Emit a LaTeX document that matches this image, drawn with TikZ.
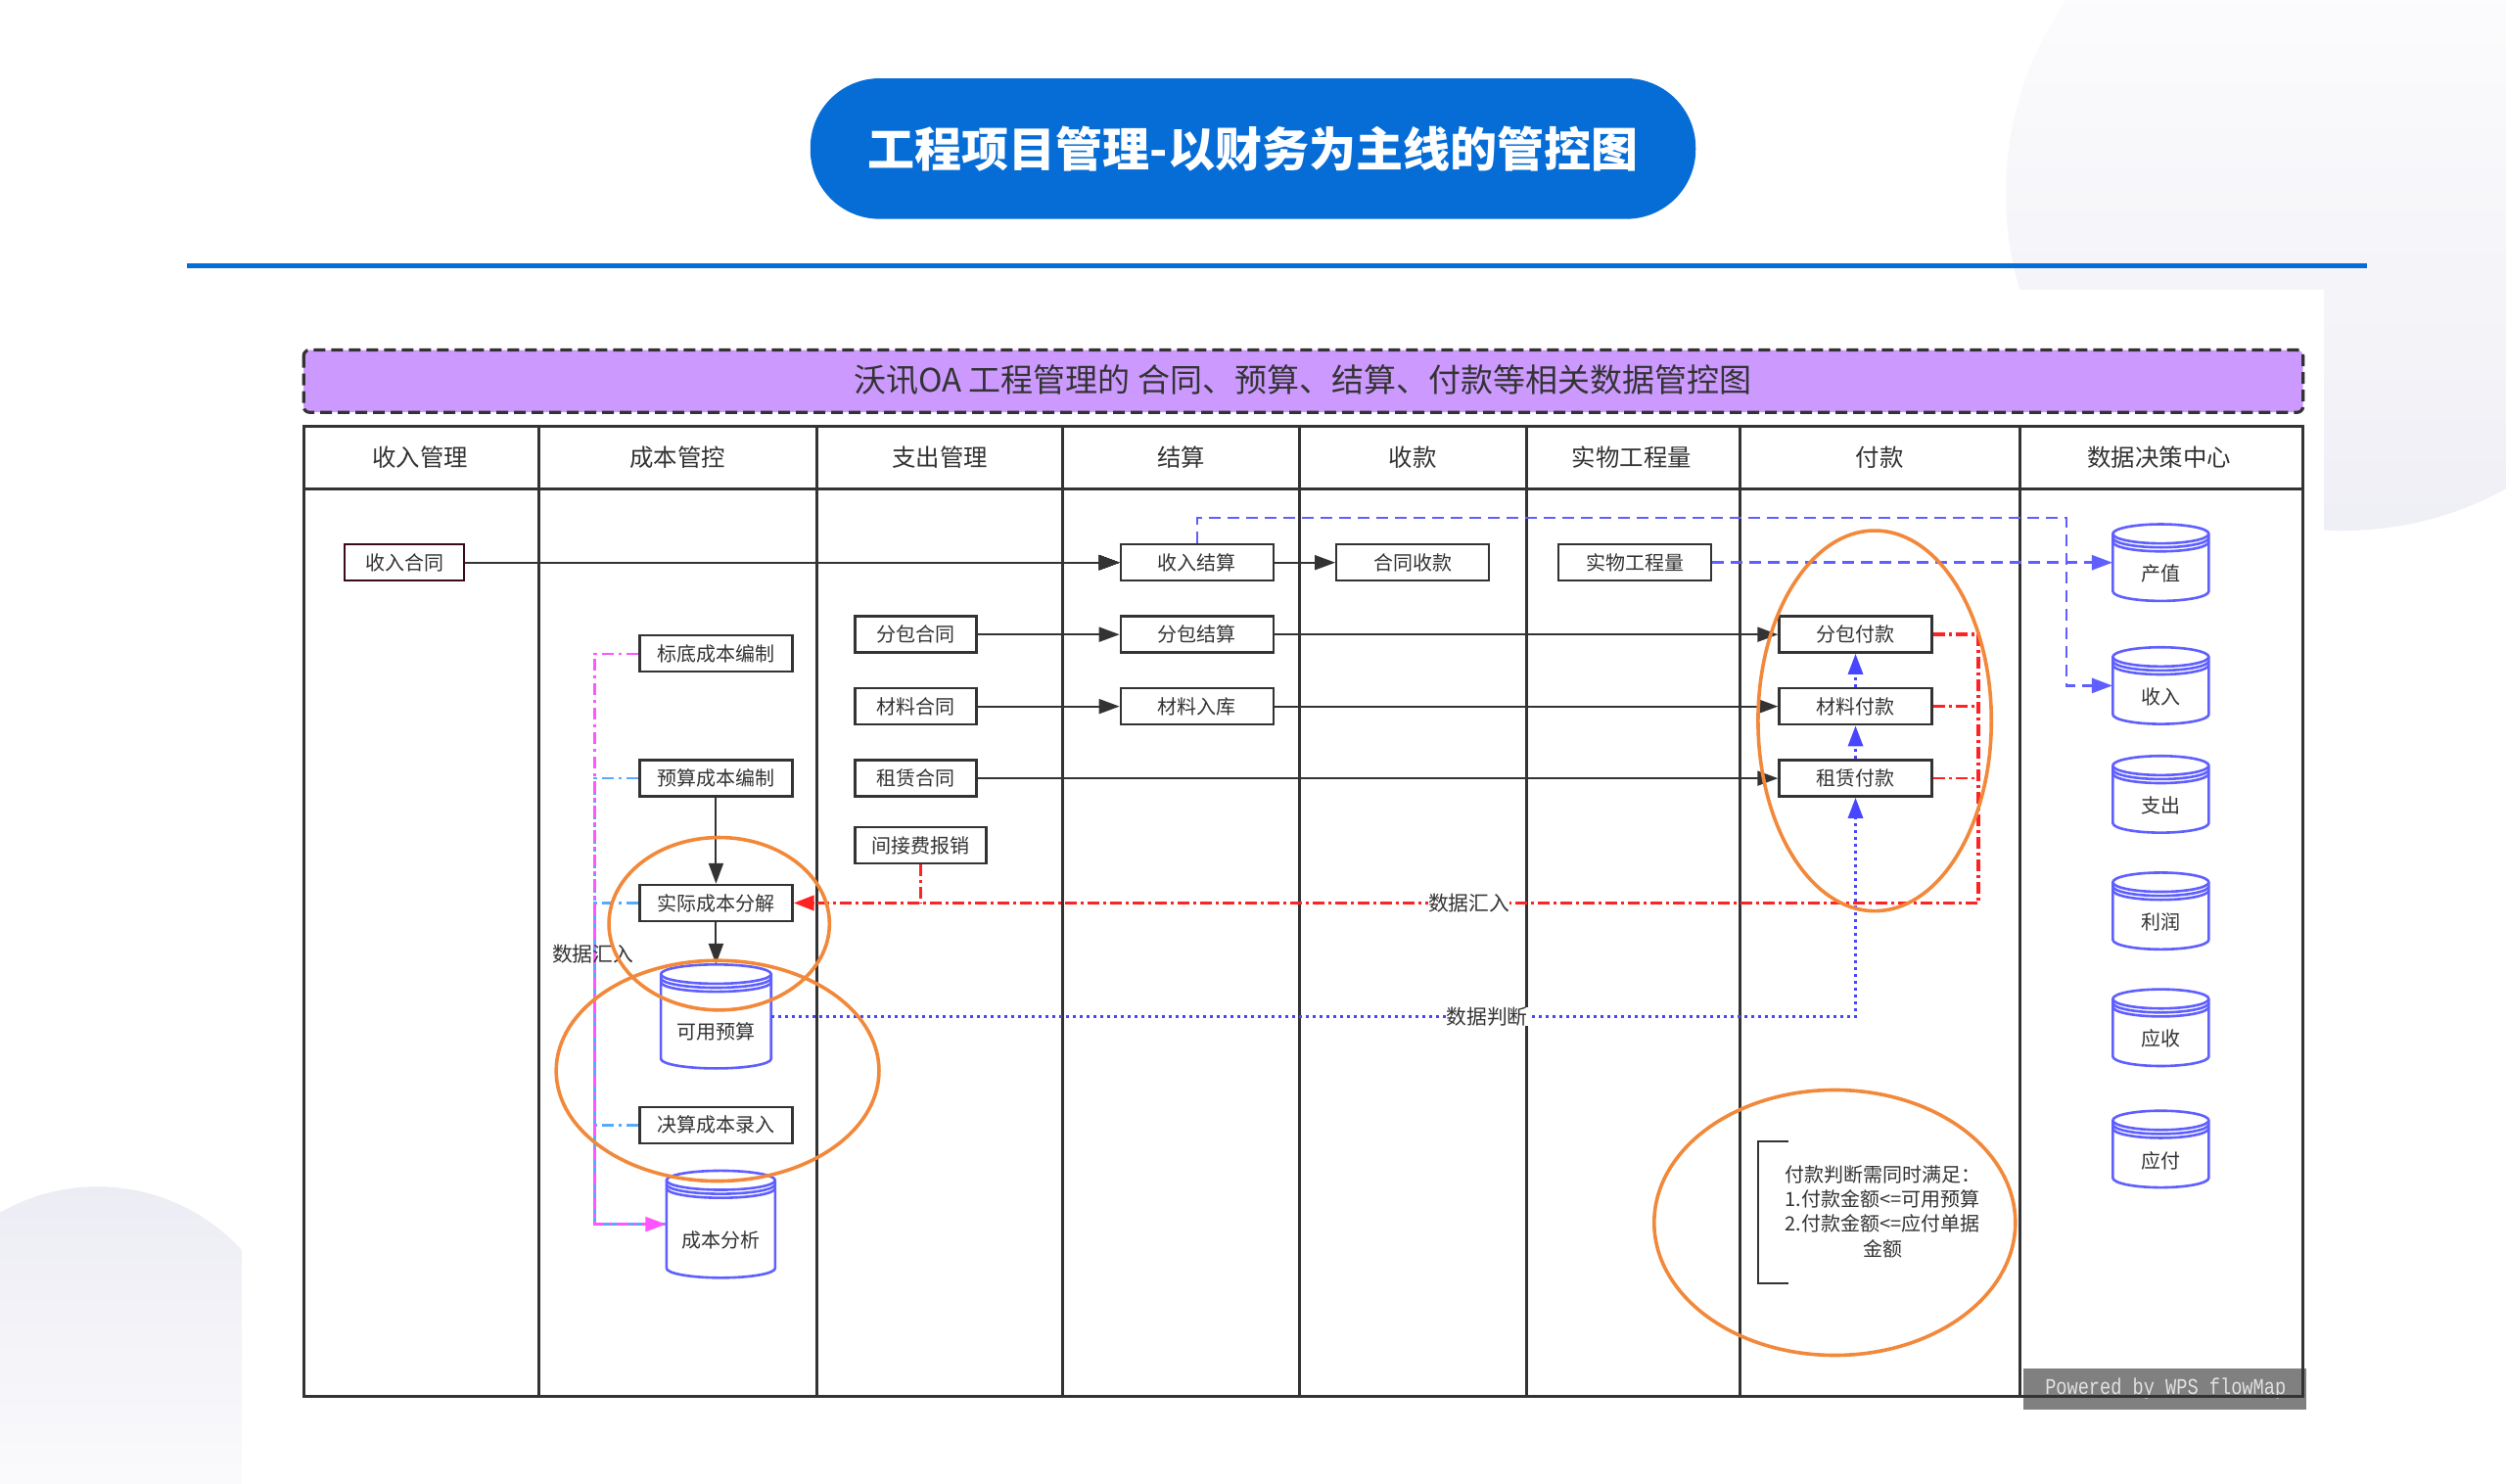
\documentclass[tikz,border=0pt]{standalone}
\usepackage{fontspec}
\setmainfont{Noto Sans CJK SC}
\newfontfamily\wpsmono{Liberation Mono}
\usetikzlibrary{arrows.meta}
\definecolor{titleblue}{RGB}{6,109,214}
\definecolor{bandpurple}{RGB}{204,153,255}
\definecolor{linegray}{RGB}{51,51,51}
\definecolor{flowblue}{RGB}{95,95,255}
\definecolor{dotblue}{RGB}{70,70,255}
\definecolor{flowred}{RGB}{255,34,34}
\definecolor{flowpink}{RGB}{255,85,255}
\definecolor{flowcyan}{RGB}{85,170,255}
\definecolor{ringorange}{RGB}{242,136,58}
\definecolor{bgshade}{RGB}{236,236,244}
\definecolor{incborder}{RGB}{60,10,30}
\definecolor{wpsgray}{RGB}{128,128,128}
\definecolor{wpstext}{RGB}{225,225,225}
\newcommand\dbcyl[6]{%
	\draw [dbline] ({#2-#4},{#3-#5+6}) -- ({#2-#4},{#3+#5-6}) arc [start angle=180, end angle=360, x radius=#4*0.8163pt, y radius=4.9pt] -- ({#2+#4},{#3-#5+6}) arc [start angle=0, end angle=180, x radius=#4*0.8163pt, y radius=4.9pt] -- cycle;
	\foreach \s in {0,2.5,5}
		\draw [dbline, fill=none] ({#2-#4},{#3-#5+6+\s}) arc [start angle=180, end angle=360, x radius=#4*0.8163pt, y radius=4.9pt];
	\node [dbtext, minimum width=#4*1.6326pt, minimum height=#5*1.6326pt] (#1) at (#2,#3) {\raisebox{-\dimexpr #5pt*24/100+3.8pt\relax}[0pt][0pt]{#6}};
}
\begin{document}
\begin{tikzpicture}[x=0.8163pt, y=-0.8163pt,
	box/.style={draw=linegray, line width=1.2pt, fill=white, text=linegray, minimum height=18.5pt, font=\fontsize{10}{12}\selectfont},
	wide/.style={box, minimum width=78pt},
	short/.style={box, minimum width=62pt},
	head/.style={text=linegray, font=\fontsize{12.2}{14}\selectfont},
	dbtext/.style={text=linegray, font=\fontsize{10}{12}\selectfont},
	dbline/.style={draw=flowblue, line width=1.3pt, fill=white},
	lane/.style={draw=linegray, line width=1.5pt},
	tip/.style={-{Triangle[length=10.5pt,width=7.5pt]}},
	flow/.style={draw=linegray, line width=1pt, tip},
	reddash/.style={draw=flowred, line width=1.2pt, dash pattern=on 6pt off 2pt on 1.5pt off 2pt},
	bluedash/.style={draw=flowblue, line width=1.3pt, dash pattern=on 6pt off 3.5pt},
	bluedot/.style={draw=dotblue, line width=1.5pt, dash pattern=on 1.5pt off 2pt},
	pinkdash/.style={draw=flowpink, line width=1.2pt, dash pattern=on 6pt off 2.5pt on 1.5pt off 2.5pt},
	cyandash/.style={draw=flowcyan, line width=1.2pt, dash pattern=on 6pt off 2.5pt on 1.5pt off 2.5pt},
	ring/.style={draw=ringorange, line width=1.8pt},
	tag/.style={text=linegray, font=\fontsize{10.4}{12}\selectfont}]
		\tikzstyle{every node}+=[inner sep=0pt]
		\useasboundingbox (0,0) rectangle (1568,928);
		\fill [white] (0,0) rectangle (1568,928);
		\begin{scope}
			\clip (0,600) rectangle (151,928);
			\shade [top color=bgshade, bottom color=white] (61,865) circle [radius=122.5];
		\end{scope}
		\shade [top color=white, bottom color=bgshade!85] (1466,121) circle [radius=211];
		\fill [white] (151,181) rectangle (1454,900);
		\fill [titleblue, rounded corners=35.5pt] (507,49) rectangle (1061,137);
		\node [text=white, font=\bfseries\fontsize{24}{28}\selectfont] (title) at (784,93) {工程项目管理-以财务为主线的管控图};
		\draw [titleblue, line width=2.5pt] (117,166) -- (1481,166);
		\draw [draw=linegray, line width=1.6pt, dash pattern=on 6pt off 3pt, fill=bandpurple, rounded corners=3pt] (190,219) rectangle (1441,258);
		\node [text=linegray, font=\fontsize{16.5}{19}\selectfont] (band) at (815,238) {沃讯OA 工程管理的 合同、预算、结算、付款等相关数据管控图};
		\fill [wpsgray] (1266,856) rectangle (1443,882);
		\node [text=wpstext, font=\wpsmono\fontsize{11.5}{13}\selectfont] (wps) at (1355,869) {\scalebox{0.81}[1]{Powered by WPS flowMap}};
		\draw [lane] (190,267) rectangle (1441,874);
		\draw [lane] (190,306) -- (1441,306);
		\foreach \x in {337,511,665,813,955,1089,1264}
			\draw [lane] (\x,267) -- (\x,874);
		\foreach \x/\t [count=\i] in {263/收入管理,424/成本管控,588/支出管理,739/结算,884/收款,1021/实物工程量,1176/付款,1351/数据决策中心}
			\node [head] (lane\i) at (\x,286) {\t};
		\node [box, minimum width=61pt, draw=incborder] (inc) at (253,352) {收入合同};
		\node [wide] (incset) at (749,352) {收入结算};
		\node [wide] (recv) at (884,352) {合同收款};
		\node [wide] (qty) at (1023,352) {实物工程量};
		\node [short] (subc) at (573,397) {分包合同};
		\node [wide] (subset) at (749,397) {分包结算};
		\node [wide] (subpay) at (1161,397) {分包付款};
		\node [short] (matc) at (573,442) {材料合同};
		\node [wide] (matin) at (749,442) {材料入库};
		\node [wide] (matpay) at (1161,442) {材料付款};
		\node [short] (rentc) at (573,487) {租赁合同};
		\node [wide] (rentpay) at (1161,487) {租赁付款};
		\node [box, minimum width=67pt] (indir) at (576,529) {间接费报销};
		\node [wide] (target) at (448,409) {标底成本编制};
		\node [wide] (budget) at (448,487) {预算成本编制};
		\node [wide] (actual) at (448,565) {实际成本分解};
		\node [wide] (final) at (448,704) {决算成本录入};
		\dbcyl{avail}{448}{636}{34.5}{32.5}{可用预算}
		\dbcyl{analysis}{451}{766}{34}{33.5}{成本分析}
		\foreach \n/\y/\t in {output/352/产值,revenue/429/收入,expense/497/支出,profit/570/利润,recvable/643/应收,payable/719/应付}
			\dbcyl{\n}{1352}{\y}{30}{24}{\t}
		\draw [flow] (inc) -- (incset);
		\draw [flow] (incset) -- (recv);
		\draw [flow] (subc) -- (subset);
		\draw [flow] (subset) -- (subpay);
		\draw [flow] (matc) -- (matin);
		\draw [flow] (matin) -- (matpay);
		\draw [flow] (rentc) -- (rentpay);
		\draw [flow] (budget) -- (actual);
		\draw [flow] (actual) -- (avail);
		\coordinate (redbus) at (1238,565);
		\draw [reddash] (matpay.east) -- (matpay.east -| redbus);
		\draw [reddash] (rentpay.east) -- (rentpay.east -| redbus);
		\draw [reddash] (indir.south) -- (indir.south |- redbus);
		\draw [reddash, line width=1.8pt, tip] (subpay.east) -| (redbus) -- node [tag, fill=white, pos=0.43] (gather) {数据汇入} (actual.east);
		\coordinate (bluebend) at (1293,324);
		\draw [bluedash, tip] (incset.north) |- (bluebend) |- (revenue.west);
		\draw [bluedash, tip] (qty.east) -- (output.west);
		\draw [bluedot, tip] (avail.east) -| node [tag, fill=white, pos=0.33] (judge) {数据判断} (rentpay.south);
		\draw [bluedot, tip] (rentpay.north) -- (matpay.south);
		\draw [bluedot, tip] (matpay.north) -- (subpay.south);
		\coordinate (pinkbus) at (372,766);
		\foreach \n in {budget,actual,final}
			\draw [cyandash] (\n.west) -| (pinkbus) -- (analysis.west);
		\draw [pinkdash, tip] (target.west) -| (pinkbus) -- (analysis.west);
		\node [tag] (gather2) at (371,597) {数据汇入};
		\draw [ring] (1173,451) ellipse [x radius=73, y radius=119];
		\draw [ring] (450,578) ellipse [x radius=69, y radius=54];
		\draw [ring] (449,670) ellipse [x radius=101, y radius=69];
		\draw [ring] (1148,765) ellipse [x radius=113, y radius=83];
		\draw [draw=linegray, line width=1.2pt] (1119,714) -| (1100,803) -- (1119,803);
		\node [tag, align=center, font=\fontsize{10}{12.65}\selectfont] (rule) at (1178,758) {付款判断需同时满足：\\1.付款金额<=可用预算\\2.付款金额<=应付单据\\金额};
	\end{tikzpicture}
\end{document}
